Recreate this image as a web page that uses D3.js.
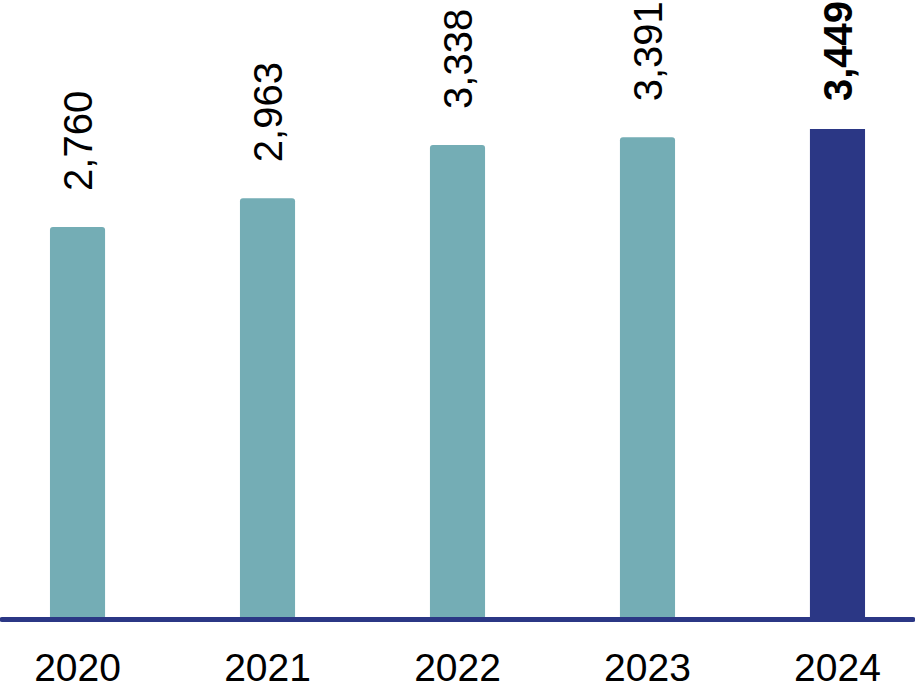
<!DOCTYPE html>
<html>
<head>
<meta charset="utf-8">
<script src="https://cdn.jsdelivr.net/npm/d3@7"></script>
<style>
  html, body { margin: 0; padding: 0; background: #ffffff; }
  svg { display: block; }
  text { font-family: "Liberation Sans", Arial, sans-serif; fill: #000; }
</style>
</head>
<body>
<svg id="chart" width="915" height="691"></svg>
<script>
const years = ["2020", "2021", "2022", "2023", "2024"];
const values = [2760, 2963, 3338, 3391, 3449];
const highlight = ["2024"];

const W = 915, H = 691;
const baseY = 619;
const svg = d3.select("#chart");

const x = d3.scaleBand().domain(years).range([0, W]).paddingInner(0.71).paddingOuter(0.263);
const y = d3.scaleLinear().domain([0, 4358]).range([baseY, 0]);

const teal = "#74adb5", navy = "#2b3785";
const data = years.map((yr, i) => ({ year: yr, value: values[i] }));

// bars (rounded top corners for teal bars)
svg.selectAll("path.bar").data(data).enter().append("path")
  .attr("class", "bar")
  .attr("fill", d => highlight.includes(d.year) ? navy : teal)
  .attr("d", d => {
    const x0 = x(d.year), w = x.bandwidth(), top = y(d.value), bot = y(0);
    const r = highlight.includes(d.year) ? 0 : 3;
    return `M${x0},${bot} L${x0},${top + r} Q${x0},${top} ${x0 + r},${top} L${x0 + w - r},${top} Q${x0 + w},${top} ${x0 + w},${top + r} L${x0 + w},${bot} Z`;
  });

// baseline
svg.append("line")
  .attr("x1", 2).attr("x2", W - 2)
  .attr("y1", y(0) + 0.5).attr("y2", y(0) + 0.5)
  .attr("stroke", navy).attr("stroke-width", 5).attr("stroke-linecap", "round");

// value labels (rotated)
const fmt = d3.format(",");
svg.selectAll("text.val").data(data).enter().append("text")
  .attr("class", "val")
  .attr("transform", d => {
    const cx = x(d.year) + x.bandwidth() / 2;
    const by = Math.max(y(d.value) - 36, 101);
    return `translate(${cx},${by}) rotate(-90)`;
  })
  .attr("dy", "0.36em")
  .attr("text-anchor", "start")
  .style("font-size", "40px")
  .style("font-weight", d => highlight.includes(d.year) ? "bold" : "normal")
  .text(d => fmt(d.value));

// x axis labels
const xAxis = d3.axisBottom(x).tickSize(0).tickPadding(0);
const gx = svg.append("g").attr("transform", `translate(0,${baseY})`).call(xAxis);
gx.select(".domain").remove();
gx.selectAll("text")
  .attr("y", 62).attr("dy", 0)
  .style("font-size", "39px")
  .style("font-family", "'Liberation Sans', Arial, sans-serif")
  .attr("fill", "#000");
</script>
</body>
</html>
